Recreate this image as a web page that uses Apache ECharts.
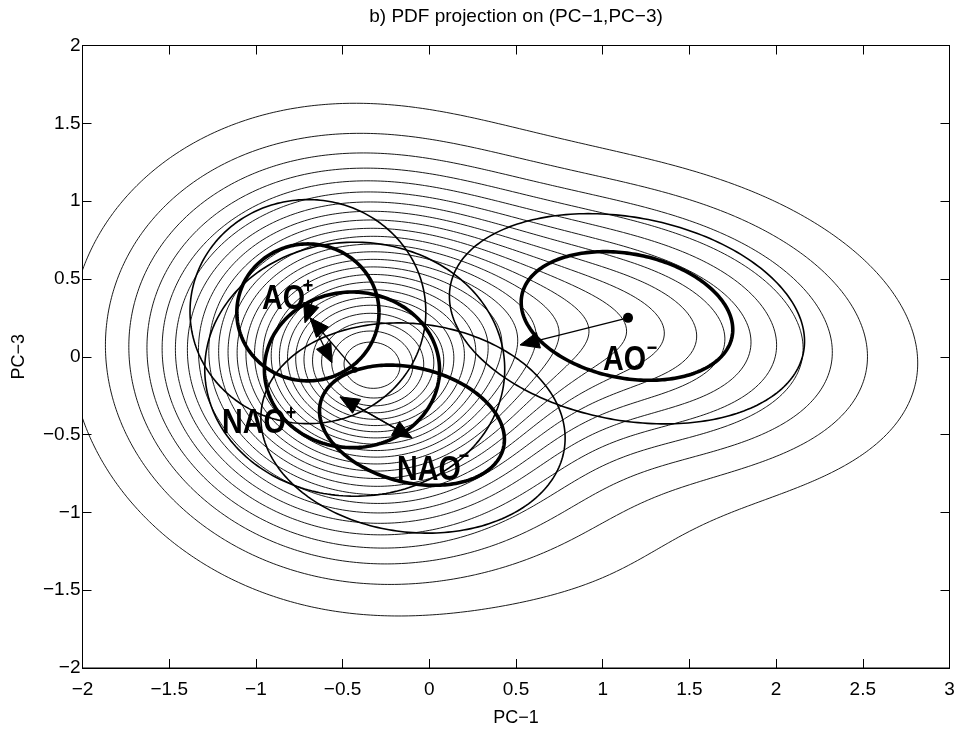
<!DOCTYPE html>
<html><head><meta charset="utf-8">
<script src="https://cdn.jsdelivr.net/npm/echarts@6/dist/echarts.min.js"></script>
<style>html,body{margin:0;padding:0;background:#fff}#c{width:958px;height:733px}</style>
</head><body><div id="c"></div>
<script>
// ---------- axis ticks ----------
const xTicks = [-2, -1.5, -1, -0.5, 0, 0.5, 1, 1.5, 2, 2.5, 3];
const xTickLabels = ['−2', '−1.5', '−1', '−0.5', '0', '0.5', '1', '1.5', '2', '2.5', '3'];
const yTicks = [-2, -1.5, -1, -0.5, 0, 0.5, 1, 1.5, 2];
const yTickLabels = ['−2', '−1.5', '−1', '−0.5', '0', '0.5', '1', '1.5', '2'];

// ---------- PDF model (components) ----------
const densityMeanX = [-0.38, -0.33, 1.20, 1.00];
const densityMeanY = [-0.02, -0.12, 0.20, -1.00];
const densitySigmaMajor = [0.70, 0.30, 0.80, 0.60];
const densitySigmaMinor = [0.65, 0.26, 0.50, 0.60];
const densityAngleDeg = [-30, -25, -14, 0];
const densityAmplitude = [0.85, 0.15, 0.34, 0.03];
const contourLevelFractions = [0.04, 0.08, 0.12, 0.16, 0.20, 0.24, 0.28, 0.32, 0.36, 0.40, 0.44, 0.48,
  0.52, 0.56, 0.60, 0.64, 0.68, 0.72, 0.76, 0.80, 0.84, 0.88, 0.92, 0.96];

// ---------- regime ellipses ----------
const ellipseNames = ['AO+ thick', 'AO+ thin', 'NAO+ thick', 'NAO+ thin', 'NAO− thick', 'NAO− thin', 'AO− thick', 'AO− thin'];
const ellipseCX = [-0.70, -0.70, -0.446, -0.43, -0.10, -0.094, 1.14, 1.14];
const ellipseCY = [0.285, 0.29, -0.084, -0.08, -0.44, -0.458, 0.262, 0.244];
const ellipseA = [0.41, 0.68, 0.505, 0.865, 0.548, 0.883, 0.621, 1.041];
const ellipseB = [0.44, 0.72, 0.50, 0.816, 0.365, 0.668, 0.397, 0.649];
const ellipseAngleDeg = [0, 0, 0, 0, -18, -10, -14, -13.3];
const ellipseThick = [1, 0, 1, 0, 1, 0, 1, 0];

// ---------- arrows (start -> tip) ----------
const arrowX0 = [1.146, -0.671, -0.429, -0.688, -0.100, -0.515];
const arrowY0 = [0.250, 0.366, -0.084, 0.250, -0.521, -0.258];
const arrowX1 = [0.523, -0.717, -0.688, -0.561, -0.515, -0.100];
const arrowY1 = [0.076, 0.218, 0.250, -0.039, -0.258, -0.521];

// ---------- dots ----------
const dotX = [1.146, -0.43];
const dotY = [0.250, -0.084];
const dotR = [5, 3];

// ---------- labels ----------
const labelText = ['AO', 'AO', 'NAO', 'NAO'];
const labelX = [-0.965, 1.002, -1.195, -0.186];
const labelY = [0.366, -0.023, -0.428, -0.730];
const supText = ['+', '−', '+', '−'];
const supX = [-0.700, 1.284, -0.798, 0.200];
const supY = [0.449, 0.051, -0.367, -0.643];

// ---------- density grid + contours ----------
function density(x, y) {
  let s = 0;
  for (let k = 0; k < densityMeanX.length; k++) {
    const a = densityAngleDeg[k] * Math.PI / 180;
    const dx = x - densityMeanX[k], dy = y - densityMeanY[k];
    const u = dx * Math.cos(a) + dy * Math.sin(a);
    const v = -dx * Math.sin(a) + dy * Math.cos(a);
    s += densityAmplitude[k] * Math.exp(-0.5 * (u * u / (densitySigmaMajor[k] ** 2) + v * v / (densitySigmaMinor[k] ** 2)));
  }
  return s;
}
const gx0 = -2, gx1 = 3, gy0 = -2, gy1 = 2, nx = 251, ny = 201;
const gdx = (gx1 - gx0) / (nx - 1), gdy = (gy1 - gy0) / (ny - 1);
const F = [];
let fmax = 0;
for (let j = 0; j < ny; j++) {
  const row = [];
  for (let i = 0; i < nx; i++) { const v = density(gx0 + i * gdx, gy0 + j * gdy); row.push(v); if (v > fmax) fmax = v; }
  F.push(row);
}
function contourAt(L) {
  const pts = new Map(), adj = new Map(), out = [];
  function ep(t, i, j) {
    const k = t + i + '_' + j;
    if (!pts.has(k)) {
      let va, vb, xa, ya, xb, yb;
      if (t === 'h') { va = F[j][i]; vb = F[j][i + 1]; xa = gx0 + i * gdx; xb = xa + gdx; ya = yb = gy0 + j * gdy; }
      else { va = F[j][i]; vb = F[j + 1][i]; xa = xb = gx0 + i * gdx; ya = gy0 + j * gdy; yb = ya + gdy; }
      const s = (L - va) / (vb - va);
      pts.set(k, [xa + s * (xb - xa), ya + s * (yb - ya)]);
    }
    return k;
  }
  function link(a, b) {
    if (!adj.has(a)) adj.set(a, []); if (!adj.has(b)) adj.set(b, []);
    adj.get(a).push(b); adj.get(b).push(a);
  }
  for (let j = 0; j < ny - 1; j++) for (let i = 0; i < nx - 1; i++) {
    const v0 = F[j][i], v1 = F[j][i + 1], v2 = F[j + 1][i + 1], v3 = F[j + 1][i];
    const b0 = v0 >= L, b1 = v1 >= L, b2 = v2 >= L, b3 = v3 >= L;
    const E = [];
    if (b0 !== b1) E.push(ep('h', i, j));
    if (b1 !== b2) E.push(ep('v', i + 1, j));
    if (b2 !== b3) E.push(ep('h', i, j + 1));
    if (b3 !== b0) E.push(ep('v', i, j));
    if (E.length === 2) link(E[0], E[1]);
    else if (E.length === 4) {
      const c = (v0 + v1 + v2 + v3) / 4 >= L;
      if (c === b0) { link(E[0], E[1]); link(E[2], E[3]); } else { link(E[3], E[0]); link(E[1], E[2]); }
    }
  }
  const seen = new Set();
  function walk(start) {
    const line = [pts.get(start)]; seen.add(start); let cur = start;
    while (true) {
      const nb = adj.get(cur).filter(n => !seen.has(n));
      if (!nb.length) { if (line.length > 2 && adj.get(cur).includes(start)) line.push(pts.get(start)); break; }
      cur = nb[0]; seen.add(cur); line.push(pts.get(cur));
    }
    return line;
  }
  for (const [k, v] of adj) if (v.length === 1 && !seen.has(k)) out.push(walk(k));
  for (const [k] of adj) if (!seen.has(k)) out.push(walk(k));
  return out;
}
const contourLines = [];
contourLevelFractions.forEach(fr => contourAt(fr * fmax).forEach(l => contourLines.push(l)));

function ellipsePoints(k) {
  const a = ellipseAngleDeg[k] * Math.PI / 180, pts = [];
  for (let t = 0; t <= 240; t++) {
    const th = t / 240 * 2 * Math.PI;
    const u = ellipseA[k] * Math.cos(th), v = ellipseB[k] * Math.sin(th);
    pts.push([ellipseCX[k] + u * Math.cos(a) - v * Math.sin(a), ellipseCY[k] + u * Math.sin(a) + v * Math.cos(a)]);
  }
  return pts;
}
const ellipseLines = ellipseCX.map((_, k) => ellipsePoints(k));

function tickLabel(v, ticks, labels) {
  for (let i = 0; i < ticks.length; i++) if (Math.abs(ticks[i] - v) < 1e-9) return labels[i];
  return '';
}

const FONT = '"Liberation Sans", Arial, Helvetica, sans-serif';
const axisCommon = {
  type: 'value', splitLine: { show: false },
  axisLine: { show: true, onZero: false, lineStyle: { color: '#000', width: 1 } },
  axisTick: { show: true, inside: true, length: 9, lineStyle: { color: '#000', width: 1 } }
};

const chart = echarts.init(document.getElementById('c'), null, { renderer: 'canvas' });
chart.setOption({
  animation: false,
  backgroundColor: '#fff',
  grid: { left: 82.5, right: 8.5, top: 45.5, bottom: 65, show: true, borderColor: '#000', borderWidth: 1 },
  graphic: [{
    type: 'text', x: 516, y: 17,
    style: { text: 'b) PDF projection on (PC−1,PC−3)', fill: '#000', fontSize: 19, fontFamily: FONT,
      align: 'center', verticalAlign: 'middle', textAlign: 'center', textVerticalAlign: 'middle' }
  }],
  xAxis: [
    Object.assign({}, axisCommon, {
      min: -2, max: 3, interval: 0.5, position: 'bottom',
      axisLabel: { color: '#000', fontSize: 19, fontFamily: FONT, margin: 12, formatter: v => tickLabel(v, xTicks, xTickLabels) },
      name: 'PC−1', nameLocation: 'middle', nameGap: 41, nameTextStyle: { color: '#000', fontSize: 18, fontFamily: FONT }
    }),
    Object.assign({}, axisCommon, { min: -2, max: 3, interval: 0.5, position: 'top', axisLabel: { show: false } })
  ],
  yAxis: [
    Object.assign({}, axisCommon, {
      min: -2, max: 2, interval: 0.5, position: 'left',
      axisLabel: { color: '#000', fontSize: 19, fontFamily: FONT, margin: 2, formatter: v => tickLabel(v, yTicks, yTickLabels) },
      name: 'PC−3', nameLocation: 'middle', nameGap: 54, nameTextStyle: { color: '#000', fontSize: 18, fontFamily: FONT }
    }),
    Object.assign({}, axisCommon, { min: -2, max: 2, interval: 0.5, position: 'right', axisLabel: { show: false } })
  ],
  series: [
    {
      type: 'custom', name: 'contours', clip: true, silent: true,
      data: contourLines.map((l, i) => [l[0][0], l[0][1], i]),
      encode: { x: 0, y: 1 },
      renderItem: (params, api) => ({
        type: 'polyline', silent: true,
        shape: { points: contourLines[api.value(2)].map(p => api.coord(p)) },
        style: { stroke: '#000', lineWidth: 0.9, fill: null }
      })
    },
    {
      type: 'custom', name: 'ellipses', clip: true, silent: true,
      data: ellipseLines.map((l, i) => [ellipseCX[i], ellipseCY[i], i]),
      encode: { x: 0, y: 1 },
      renderItem: (params, api) => {
        const k = api.value(2);
        return {
          type: 'polyline', silent: true,
          shape: { points: ellipseLines[k].map(p => api.coord(p)) },
          style: { stroke: '#000', lineWidth: ellipseThick[k] ? 3.6 : 1.6, fill: null }
        };
      }
    },
    {
      type: 'custom', name: 'arrows', clip: true, silent: true,
      data: arrowX0.map((x, i) => [x, arrowY0[i], arrowX1[i], arrowY1[i]]),
      encode: { x: [0, 2], y: [1, 3] },
      renderItem: (params, api) => {
        const p0 = api.coord([api.value(0), api.value(1)]);
        const p1 = api.coord([api.value(2), api.value(3)]);
        const dx = p1[0] - p0[0], dy = p1[1] - p0[1], len = Math.hypot(dx, dy);
        const ux = dx / len, uy = dy / len, nxv = -uy, nyv = ux;
        const L = 19, W = 8;
        const bx = p1[0] - ux * L, by = p1[1] - uy * L;
        return {
          type: 'group', children: [
            { type: 'line', shape: { x1: p0[0], y1: p0[1], x2: bx, y2: by }, style: { stroke: '#000', lineWidth: 1.3 } },
            { type: 'polygon', shape: { points: [p1, [bx + nxv * W, by + nyv * W], [bx - nxv * W, by - nyv * W]] }, style: { fill: '#000', stroke: '#000', lineWidth: 1 } }
          ]
        };
      }
    },
    {
      type: 'custom', name: 'dots', clip: true, silent: true,
      data: dotX.map((x, i) => [x, dotY[i], dotR[i]]),
      encode: { x: 0, y: 1 },
      renderItem: (params, api) => {
        const p = api.coord([api.value(0), api.value(1)]);
        return { type: 'circle', shape: { cx: p[0], cy: p[1], r: api.value(2) }, style: { fill: '#000' } };
      }
    },
    {
      type: 'custom', name: 'labels', silent: true,
      data: labelX.map((x, i) => [x, labelY[i], supX[i], supY[i], i]),
      encode: { x: [0, 2], y: [1, 3] },
      renderItem: (params, api) => {
        const k = api.value(4);
        const p = api.coord([api.value(0), api.value(1)]);
        const q = api.coord([api.value(2), api.value(3)]);
        return {
          type: 'group', children: [
            { type: 'text', x: p[0], y: p[1], scaleX: 0.82,
              style: { text: labelText[k], fill: '#000', fontSize: 35, fontWeight: 'bold', fontFamily: FONT, align: 'left', verticalAlign: 'middle' } },
            { type: 'text', x: q[0], y: q[1], scaleX: 0.82,
              style: { text: supText[k], fill: '#000', fontSize: 22, fontWeight: 'bold', fontFamily: FONT, align: 'center', verticalAlign: 'middle' } }
          ]
        };
      }
    }
  ]
});
</script></body></html>
